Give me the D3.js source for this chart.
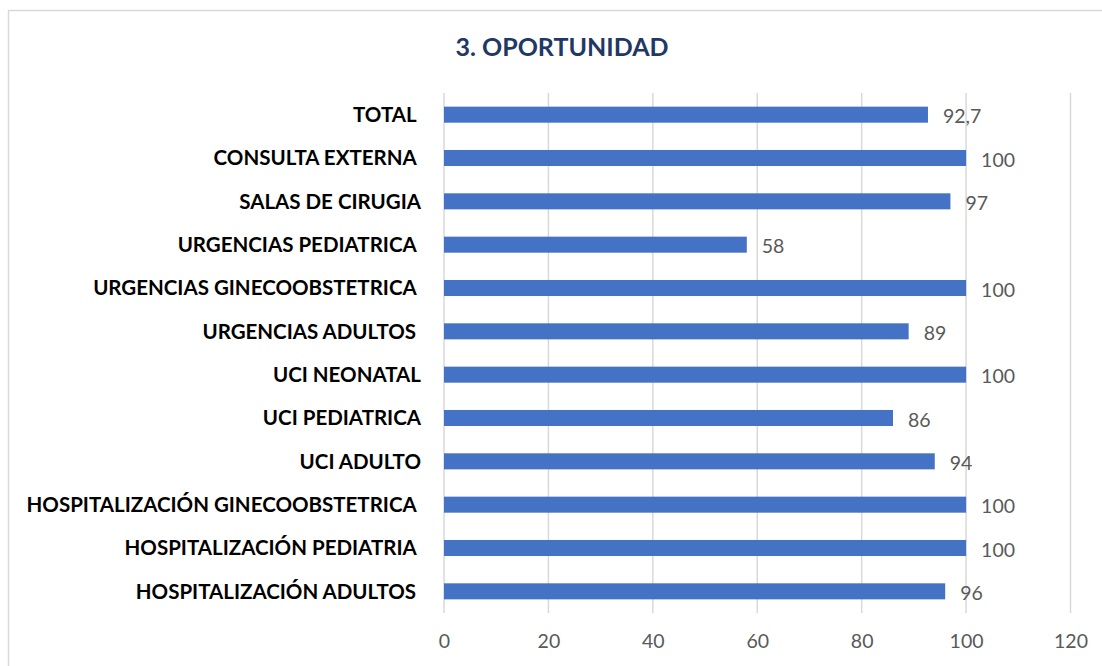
<!DOCTYPE html>
<html>
<head>
<meta charset="utf-8">
<script src="https://cdn.jsdelivr.net/npm/d3@7"></script>
<style>
  html, body { margin: 0; padding: 0; background: #fff; }
  svg { display: block; }
  text { white-space: pre; }
</style>
</head>
<body>
<svg id="chart" width="1102" height="666"></svg>
<script>
const title = "3. OPORTUNIDAD";
const categories = [
  "TOTAL ",
  "CONSULTA EXTERNA ",
  "SALAS DE CIRUGIA",
  "URGENCIAS PEDIATRICA ",
  "URGENCIAS GINECOOBSTETRICA ",
  "URGENCIAS ADULTOS ",
  "UCI NEONATAL",
  "UCI PEDIATRICA",
  "UCI ADULTO",
  "HOSPITALIZACIÓN GINECOOBSTETRICA ",
  "HOSPITALIZACIÓN PEDIATRIA ",
  "HOSPITALIZACIÓN ADULTOS "
];
const values = [92.7, 100, 97, 58, 100, 89, 100, 86, 94, 100, 100, 96];
const xTicks = [0, 20, 40, 60, 80, 100, 120];

const svg = d3.select("#chart");
const plotLeft = 444, plotRight = 1070.5, plotTop = 93, plotBottom = 613;

// chart frame
svg.append("rect")
  .attr("x", 8.5).attr("y", 10.5)
  .attr("width", 1110).attr("height", 680)
  .attr("fill", "#fff").attr("stroke", "#D9D9D9").attr("stroke-width", 1.5);

const x = d3.scaleLinear().domain([0, 120]).range([plotLeft, plotRight]);
const y = d3.scaleBand().domain(categories).range([plotTop, plotBottom]).paddingInner(0.63).paddingOuter(0.315);

const loc = d3.formatLocale({decimal: ",", thousands: ".", grouping: [3], currency: ["", ""]});
const fmt = v => Number.isInteger(v) ? String(v) : loc.format(".1f")(v);

// gridlines
svg.append("g").selectAll("line").data(xTicks).join("line")
  .attr("x1", d => x(d)).attr("x2", d => x(d))
  .attr("y1", plotTop).attr("y2", plotBottom)
  .attr("stroke", "#D9D9D9").attr("stroke-width", 1.5);

// x axis labels
const xAxis = d3.axisBottom(x).tickValues(xTicks).tickSize(0).tickPadding(0).tickFormat(d => d);
const gx = svg.append("g").attr("transform", `translate(0,${plotBottom})`).call(xAxis);
gx.select(".domain").remove();
gx.selectAll("text")
  .attr("y", 28).attr("dy", "0.35em")
  .attr("font-family", "Lato, 'Open Sans', sans-serif")
  .attr("font-size", 19.5).attr("fill", "#595959");

// bars
svg.append("g").selectAll("rect").data(values).join("rect")
  .attr("x", x(0))
  .attr("y", (d, i) => y(categories[i]))
  .attr("width", d => x(d) - x(0))
  .attr("height", y.bandwidth())
  .attr("fill", "#4472C4");

// value labels
svg.append("g").selectAll("text").data(values).join("text")
  .attr("x", d => x(d) + 15)
  .attr("y", (d, i) => y(categories[i]) + y.bandwidth() / 2 + 2)
  .attr("dy", "0.35em")
  .attr("font-family", "Lato, 'Open Sans', sans-serif")
  .attr("font-size", 19.5).attr("fill", "#595959")
  .text(d => fmt(d));

// category labels
const yAxis = d3.axisLeft(y).tickSize(0).tickPadding(0);
const gy = svg.append("g").attr("transform", `translate(${plotLeft - 23},0)`).call(yAxis);
gy.select(".domain").remove();
gy.selectAll("text")
  .attr("font-family", "Lato, 'Open Sans', sans-serif")
  .attr("font-weight", "bold")
  .attr("font-size", 20.5).attr("fill", "#000")
  .attr("dy", "0.35em");

// title
svg.append("text")
  .attr("x", 562).attr("y", 47).attr("dy", "0.35em")
  .attr("text-anchor", "middle")
  .attr("font-family", "Lato, 'Open Sans', sans-serif")
  .attr("font-weight", "bold").attr("font-size", 25)
  .attr("fill", "#1F3864")
  .text(title);
</script>
</body>
</html>
